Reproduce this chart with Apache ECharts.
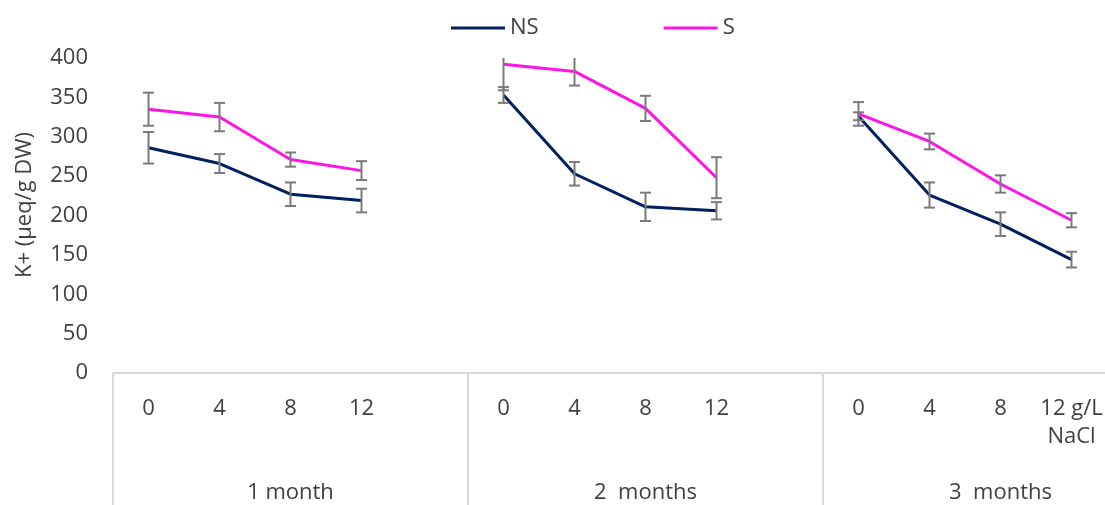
<!DOCTYPE html>
<html>
<head>
<meta charset="utf-8">
<script src="https://cdn.jsdelivr.net/npm/echarts@6/dist/echarts.min.js"></script>
<style>
html,body{margin:0;padding:0;background:#fff;}
#chart{width:1105px;height:505px;}
</style>
</head>
<body>
<div id="chart"></div>
<script>
// Categories: NaCl levels within each period (blank slot = gap between periods)
const categories = ['0','4','8','12','', '0','4','8','12','', '0','4','8','12 g/L\nNaCl',''];
const groupLabels = ['1 month', '2  months', '3  months'];
const yTicks = { min: 0, max: 400, interval: 50 };

// K+ (µeq/g DW)
const nsValues = [286, 266, 227, 219, null, 353, 253, 211, 206, null, 326, 226, 189, 144, null];
const sValues  = [335, 325, 271, 257, null, 392, 383, 336, 248, null, 329, 294, 240, 194, null];
// Error bar half-lengths
const nsErr = [20, 12, 15, 15, null, 10, 15, 18, 11, null, 5, 16, 15, 10, null];
const sErr  = [21, 18, 9, 12, null, 33, 18, 16, 26, null, 15, 10, 11, 9, null];

const FONT = 'Open Sans';
const TXT = '#404040';
const NS_COLOR = '#002060';
const S_COLOR = '#ff14e6';
const AX = '#d9d9d9';

function errData(vals, errs) {
  const out = [];
  vals.forEach((v, i) => { if (v != null && errs[i] != null) out.push([i, v, errs[i]]); });
  return out;
}

function renderErr(params, api) {
  const x = api.value(0), v = api.value(1), e = api.value(2);
  const top = api.coord([x, v + e]);
  const bot = api.coord([x, v - e]);
  const cs = params.coordSys;
  let yTop = top[1];
  const clipped = yTop < cs.y;
  if (clipped) yTop = cs.y;
  const px = top[0];
  const hw = 5.5;
  const st = { stroke: '#7a7a7a', lineWidth: 2 };
  const children = [
    { type: 'line', shape: { x1: px, y1: yTop, x2: px, y2: bot[1] }, style: st },
    { type: 'line', shape: { x1: px - hw, y1: bot[1], x2: px + hw, y2: bot[1] }, style: st }
  ];
  if (!clipped) children.push({ type: 'line', shape: { x1: px - hw, y1: yTop, x2: px + hw, y2: yTop }, style: st });
  return { type: 'group', children };
}

const chart = echarts.init(document.getElementById('chart'));
chart.setOption({
  animation: false,
  backgroundColor: '#fff',
  textStyle: { fontFamily: FONT },
  grid: { left: 113, top: 58, width: 1065, height: 315, outerBoundsMode: 'none', containLabel: false },
  legend: {
    data: ['NS', 'S'],
    left: 446, top: 12,
    icon: 'rect', itemWidth: 54, itemHeight: 3, itemGap: 125,
    textStyle: { fontFamily: FONT, fontSize: 22, color: TXT }
  },
  graphic: [{
    type: 'text', x: 25, y: 205, rotation: Math.PI / 2,
    style: { text: 'K+ (µeq/g DW)', font: '22px "Open Sans"', fill: TXT,
      align: 'center', verticalAlign: 'middle', textAlign: 'center', textVerticalAlign: 'middle' }
  }],
  xAxis: [{
    type: 'category', data: categories, position: 'bottom', boundaryGap: true,
    axisLine: { show: true, lineStyle: { color: AX, width: 2 } },
    axisTick: { show: false },
    axisLabel: { interval: 0, margin: 22, fontSize: 22, lineHeight: 28, color: TXT, fontFamily: FONT, align: 'center' },
    splitLine: { show: false }
  }, {
    type: 'category', data: groupLabels, position: 'bottom', boundaryGap: true,
    axisLine: { show: false },
    axisTick: { show: true, inside: false, length: 140, lineStyle: { color: AX, width: 2 } },
    axisLabel: { interval: 0, margin: 106, fontSize: 22, lineHeight: 28, color: TXT, fontFamily: FONT },
    splitLine: { show: false }
  }],
  yAxis: {
    type: 'value', min: yTicks.min, max: yTicks.max, interval: yTicks.interval,
    axisLine: { show: false }, axisTick: { show: false }, splitLine: { show: false },
    axisLabel: { margin: 25, fontSize: 22, color: TXT, fontFamily: FONT }
  },
  series: [{
    name: 'NS', type: 'line', data: nsValues, xAxisIndex: 0, connectNulls: false,
    showSymbol: false, symbol: 'none', color: NS_COLOR,
    lineStyle: { color: NS_COLOR, width: 3 }, z: 2
  }, {
    name: 'S', type: 'line', data: sValues, xAxisIndex: 0, connectNulls: false,
    showSymbol: false, symbol: 'none', color: S_COLOR,
    lineStyle: { color: S_COLOR, width: 3 }, z: 2
  }, {
    name: 'NS err', type: 'custom', xAxisIndex: 0, data: errData(nsValues, nsErr),
    encode: { x: 0, y: 1 }, renderItem: renderErr, z: 5, silent: true
  }, {
    name: 'S err', type: 'custom', xAxisIndex: 0, data: errData(sValues, sErr),
    encode: { x: 0, y: 1 }, renderItem: renderErr, z: 5, silent: true
  }]
});
</script>
</body>
</html>
